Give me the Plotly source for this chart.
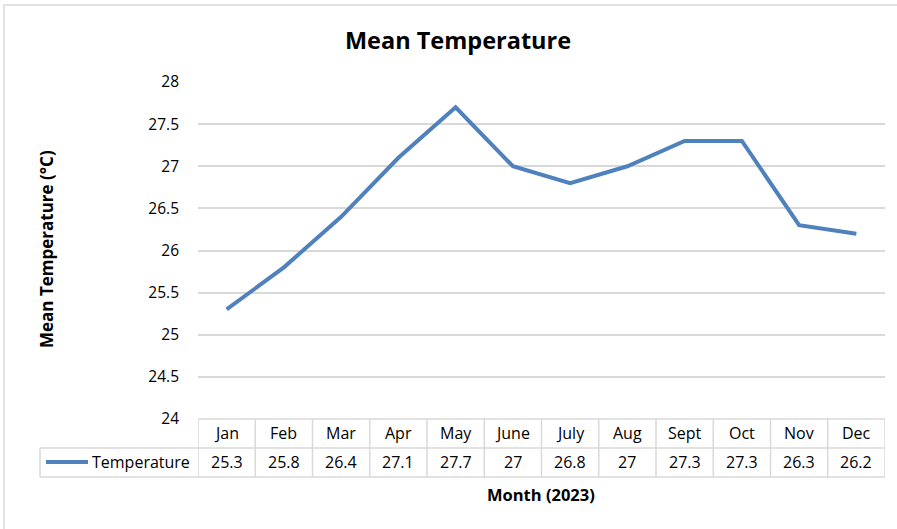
import plotly.graph_objects as go

months = ["Jan", "Feb", "Mar", "Apr", "May", "June", "July", "Aug", "Sept", "Oct", "Nov", "Dec"]
temperature = [25.3, 25.8, 26.4, 27.1, 27.7, 27, 26.8, 27, 27.3, 27.3, 26.3, 26.2]
value_labels = ["25.3", "25.8", "26.4", "27.1", "27.7", "27", "26.8", "27", "27.3", "27.3", "26.3", "26.2"]
series_name = "Temperature"

W, H = 897, 529
L, R, T, B = 198, 12, 82, 110
pw = W - L - R
ph = H - T - B

def px_x(px):
    return (px - L) / pw

def px_y(py):
    return (H - B - py) / ph

LINE = "#4f81bd"
GRID = "#d9d9d9"
FONT = "Open Sans, sans-serif"
TXT = "#000000"

fig = go.Figure()
xs = list(range(len(months)))
fig.add_trace(go.Scatter(x=xs, y=temperature, mode="lines",
                         line=dict(color=LINE, width=4), name=series_name,
                         showlegend=False, hoverinfo="y"))

shapes = []
annotations = []

row_top = 0
row_mid = px_y(448)
row_bot = px_y(477)
leg_left = px_x(40)

shapes.append(dict(type="line", xref="x", yref="paper", x0=-0.5, x1=len(months) - 0.5,
                   y0=row_top, y1=row_top, line=dict(color=GRID, width=1.5)))
for yy in (row_mid, row_bot):
    shapes.append(dict(type="line", xref="paper", yref="paper", x0=leg_left, x1=1,
                       y0=yy, y1=yy, line=dict(color=GRID, width=1.5)))
for i in range(len(months) + 1):
    shapes.append(dict(type="line", xref="x", yref="paper", x0=i - 0.5, x1=i - 0.5,
                       y0=row_top, y1=row_bot, line=dict(color=GRID, width=1.5)))
shapes.append(dict(type="line", xref="paper", yref="paper", x0=leg_left, x1=leg_left,
                   y0=row_mid, y1=row_bot, line=dict(color=GRID, width=1.5)))
shapes.append(dict(type="line", xref="paper", yref="paper", x0=px_x(46), x1=px_x(88),
                   y0=px_y(462), y1=px_y(462), line=dict(color=LINE, width=4)))
# outer chart border (right and bottom edges fall outside the visible picture)
shapes.append(dict(type="rect", xref="paper", yref="paper", x0=px_x(4), x1=px_x(910),
                   y0=px_y(540), y1=px_y(5), line=dict(color=GRID, width=1.5)))

for i, (m, v) in enumerate(zip(months, value_labels)):
    annotations.append(dict(x=i, y=px_y(433), xref="x", yref="paper", text=m,
                            xanchor="center", yanchor="middle",
                            showarrow=False, font=dict(size=16, color=TXT, family=FONT)))
    annotations.append(dict(x=i, y=px_y(462), xref="x", yref="paper", text=v,
                            xanchor="center", yanchor="middle",
                            showarrow=False, font=dict(size=16, color=TXT, family=FONT)))

annotations.append(dict(x=px_x(192), y=px_y(462), xref="paper", yref="paper", text=series_name,
                        xanchor="right", yanchor="middle", showarrow=False,
                        font=dict(size=16, color=TXT, family=FONT)))
annotations.append(dict(x=px_x(541), y=px_y(494), xref="paper", yref="paper",
                        text="<b>Month (2023)</b>", xanchor="center", yanchor="middle",
                        showarrow=False,
                        font=dict(size=16.5, color=TXT, family=FONT)))
annotations.append(dict(x=px_x(46), y=px_y(249), xref="paper", yref="paper",
                        text="<b>Mean Temperature (°C)</b>", textangle=-90,
                        xanchor="center", yanchor="middle", showarrow=False,
                        font=dict(size=17, color=TXT, family=FONT)))

fig.update_layout(
    width=W, height=H,
    margin=dict(l=L, r=R, t=T, b=B, pad=0),
    paper_bgcolor="white", plot_bgcolor="white",
    title=dict(text="<b>Mean Temperature</b>", x=458 / W, xanchor="center",
               y=1 - 41 / H, yanchor="middle",
               font=dict(size=23.5, color=TXT, family=FONT)),
    xaxis=dict(range=[-0.5, len(months) - 0.5], showticklabels=False, showgrid=False,
               zeroline=False, showline=False, fixedrange=True),
    yaxis=dict(range=[24, 28], dtick=0.5, tick0=24, showgrid=True, gridcolor=GRID,
               gridwidth=1.5, zeroline=False, showline=False, ticks="",
               ticklabelstandoff=18,
               tickfont=dict(size=15.5, color=TXT, family=FONT)),
    shapes=shapes, annotations=annotations,
    showlegend=False,
)

fig.write_html("out.html", config={"displayModeBar": False},
               post_script="document.body.style.margin='0';")
